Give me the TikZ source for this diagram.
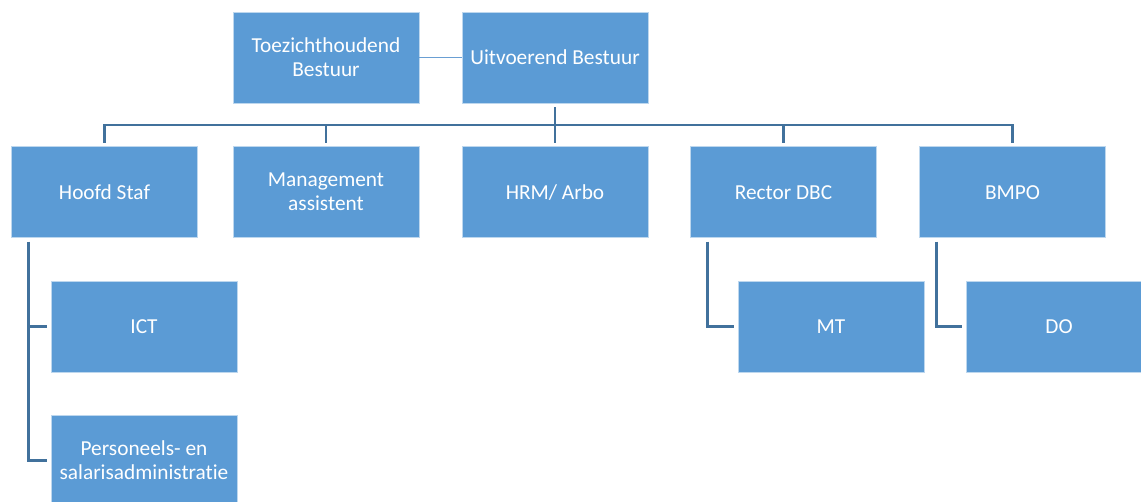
\documentclass[tikz,border=0pt]{standalone}
\usepackage{fontspec}
\setmainfont{Carlito}[Ligatures=NoCommon]
\usepackage{tikz}
\usetikzlibrary{calc, positioning}
\definecolor{boxblue}{HTML}{5B9BD5}
\definecolor{linkblue}{HTML}{41719C}
\definecolor{thinblue}{HTML}{6A9FD3}
\tikzset{
    orgbox/.style={draw=white!60!boxblue, line width=0.4pt, fill=boxblue, text=white,
        minimum width=139.5pt, minimum height=68.25pt, inner sep=0pt, outer sep=3pt,
        align=center, font=\fontsize{16}{18}\selectfont},
    link/.style={draw=linkblue, line width=2pt},
    peerlink/.style={draw=thinblue, line width=0.8pt, shorten <=-3pt, shorten >=-3pt}
}

\begin{document}
\begin{tikzpicture}[x=0.75pt, y=-0.75pt]
    \def \branch {15.75pt}
    \clip (0,0) rectangle (1141,501);
    % bestuur
    \node[orgbox] (toe) at (326, 57.5) {Toezichthoudend\\Bestuur};
    \node[orgbox] (uit) at (555, 57.5) {Uitvoerend Bestuur};
    % tweede laag
    \node[orgbox] (hoofd) at (104.5, 192.2) {Hoofd Staf};
    \node[orgbox] (mgmt) at (326, 192.2) {Management\\assistent};
    \node[orgbox] (hrm) at (555, 192.2) {HRM/ Arbo};
    \node[orgbox] (rector) at (783.5, 192.2) {Rector DBC};
    \node[orgbox] (bmpo) at (1012.5, 192.2) {BMPO};
    % derde laag
    \node[orgbox] (ict) at (144, 326.5) {ICT};
    \node[orgbox] (pers) at (144, 460.5) {Personeels- en\\salarisadministratie};
    \node[orgbox] (mt) at (831, 326.5) {MT};
    \node[orgbox] (do) at (1059, 326.5) {DO};
    % verbindingen
    \coordinate (bus) at (555, 125);
    \draw[peerlink] (toe.east) -- (uit.west);
    \draw[link] (uit.south) -- (uit.south |- bus);
    \draw[link] (hoofd.north) -- (hoofd.north |- bus) -- (bmpo.north |- bus) -- (bmpo.north);
    \foreach \n in {mgmt, hrm, rector}
        \draw[link] (\n.north) -- (\n.north |- bus);
    \coordinate (hs) at ([xshift=\branch]hoofd.south west);
    \coordinate (rs) at ([xshift=\branch]rector.south west);
    \coordinate (bs) at ([xshift=\branch]bmpo.south west);
    \draw[link] (hs) |- (pers.west);
    \draw[link] (ict.west) -- (ict.west -| hs);
    \draw[link] (rs) |- (mt.west);
    \draw[link] (bs) |- (do.west);
\end{tikzpicture}
\end{document}
